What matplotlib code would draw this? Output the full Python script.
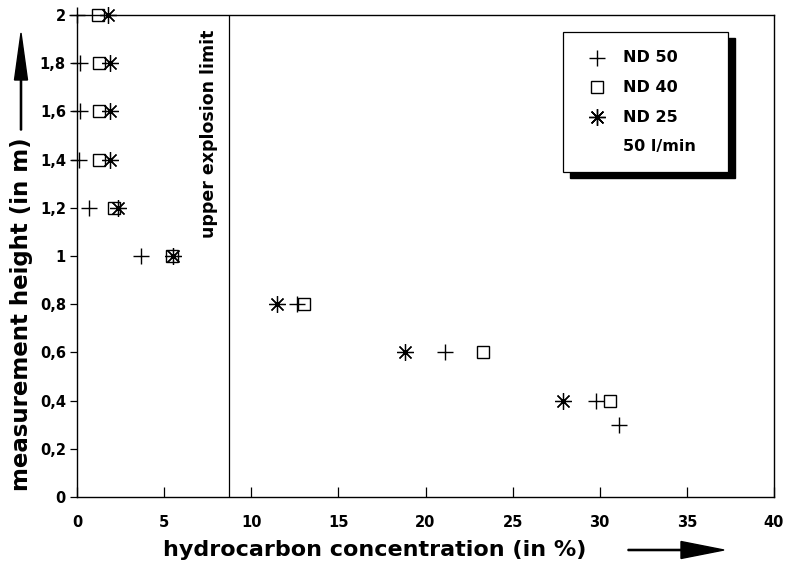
import matplotlib
matplotlib.use("Agg")
import matplotlib.pyplot as plt
from matplotlib.patches import Rectangle, FancyArrow
from matplotlib.lines import Line2D

plt.rcParams['font.family'] = ['DejaVu Sans']
plt.rcParams['font.weight'] = 'bold'

# ---- data ----
nd50_x = [0.0, 0.2, 0.2, 0.1, 0.7, 3.7, 12.6, 21.1, 29.8, 31.1]
nd50_y = [2.0, 1.8, 1.6, 1.4, 1.2, 1.0, 0.8, 0.6, 0.4, 0.3]
nd40_x = [1.2, 1.25, 1.25, 1.25, 2.1, 5.45, 13.0, 23.3, 30.6]
nd40_y = [2.0, 1.8, 1.6, 1.4, 1.2, 1.0, 0.8, 0.6, 0.4]
nd25_x = [1.8, 1.9, 1.9, 1.9, 2.35, 5.5, 11.5, 18.8, 27.9]
nd25_y = [2.0, 1.8, 1.6, 1.4, 1.2, 1.0, 0.8, 0.6, 0.4]
explosion_limit = 8.75

x_ticks = [0, 5, 10, 15, 20, 25, 30, 35, 40]
y_ticks = [0, 0.2, 0.4, 0.6, 0.8, 1.0, 1.2, 1.4, 1.6, 1.8, 2.0]
y_tick_labels = ['0', '0,2', '0,4', '0,6', '0,8', '1', '1,2', '1,4', '1,6', '1,8', '2']
legend_labels = ['ND 50', 'ND 40', 'ND 25']
legend_note = '50 l/min'

W, H = 789, 566
fig = plt.figure(figsize=(W / 100, H / 100), dpi=100)
ax = fig.add_axes([77 / W, 1 - 497 / H, 697 / W, 482 / H])

asterisk = (8, 2, 0)
common = dict(linestyle='none', color='black', clip_on=False, zorder=3)
ax.plot(nd50_x, nd50_y, marker='+', markersize=11, markeredgewidth=1.0, **common)
ax.plot(nd40_x, nd40_y, marker='s', markersize=9, markeredgewidth=1.0,
        markerfacecolor='none', **common)
ax.plot(nd25_x, nd25_y, marker=asterisk, markersize=12, markeredgewidth=0.9, **common)

ax.axvline(explosion_limit, color='black', linewidth=0.9)
ax.text(explosion_limit - 1.15, 1.94, 'upper explosion limit', rotation=90,
        ha='center', va='top', fontsize=12.5, fontweight='bold')

ax.set_xlim(0, 40)
ax.set_ylim(0, 2)
ax.set_xticks(x_ticks)
ax.set_yticks(y_ticks)
ax.set_yticklabels(y_tick_labels)
ax.tick_params(axis='x', direction='in', length=7, width=0.9, labelsize=10.5, pad=13)
ax.tick_params(axis='y', direction='out', length=5, width=0.9, labelsize=10.5, pad=3)
for lab in ax.get_xticklabels() + ax.get_yticklabels():
    lab.set_fontweight('bold')
for sp in ax.spines.values():
    sp.set_linewidth(1.0)

# axis labels
fig.text(375 / W, 1 - 550 / H, 'hydrocarbon concentration (in %)', ha='center',
         va='center', fontsize=16, fontweight='bold')
fig.text(22 / W, 1 - 314 / H, 'measurement height (in m)', ha='center',
         va='center', rotation=90, fontsize=16.5, fontweight='bold')

# arrows (figure coordinates)
fig.patches.append(FancyArrow(628 / W, 1 - 550 / H, 96 / W, 0, width=1.2 / H,
                              head_width=17 / H, head_length=43 / W,
                              length_includes_head=True, color='black',
                              transform=fig.transFigure, figure=fig))
fig.patches.append(FancyArrow(21 / W, 1 - 130 / H, 0, 97 / H, width=1.2 / W,
                              head_width=13 / W, head_length=47 / H,
                              length_includes_head=True, color='black',
                              transform=fig.transFigure, figure=fig))

# legend box with shadow (axes coordinates)
lx0, lx1 = (563 - 77) / 697, (728 - 77) / 697
ly0, ly1 = (497 - 172) / 482, (497 - 32) / 482
dx, dy = 7 / 697, 6 / 482
ax.add_patch(Rectangle((lx0 + dx, ly0 - dy), lx1 - lx0, ly1 - ly0,
                       transform=ax.transAxes, facecolor='black',
                       edgecolor='black', zorder=5, clip_on=False))
ax.add_patch(Rectangle((lx0, ly0), lx1 - lx0, ly1 - ly0,
                       transform=ax.transAxes, facecolor='white',
                       edgecolor='black', linewidth=0.9, zorder=6, clip_on=False))
rows_y = [(497 - y) / 482 for y in (58, 87, 117, 146)]
mx, tx = (597 - 77) / 697, (623 - 77) / 697
markers = [dict(marker='+', markersize=11, markerfacecolor='black'),
           dict(marker='s', markersize=9, markerfacecolor='none'),
           dict(marker=asterisk, markersize=12, markerfacecolor='black')]
for yy, lab, mk in zip(rows_y, legend_labels, markers):
    ax.add_line(Line2D([mx], [yy], transform=ax.transAxes, color='black',
                       markeredgewidth=1.0, linestyle='none', zorder=7,
                       clip_on=False, **mk))
    ax.text(tx, yy, lab, transform=ax.transAxes, ha='left', va='center',
            fontsize=11.5, fontweight='bold', zorder=7)
ax.text(tx, rows_y[3], legend_note, transform=ax.transAxes, ha='left',
        va='center', fontsize=11.5, fontweight='bold', zorder=7)

fig.savefig('out.png', dpi=100)
